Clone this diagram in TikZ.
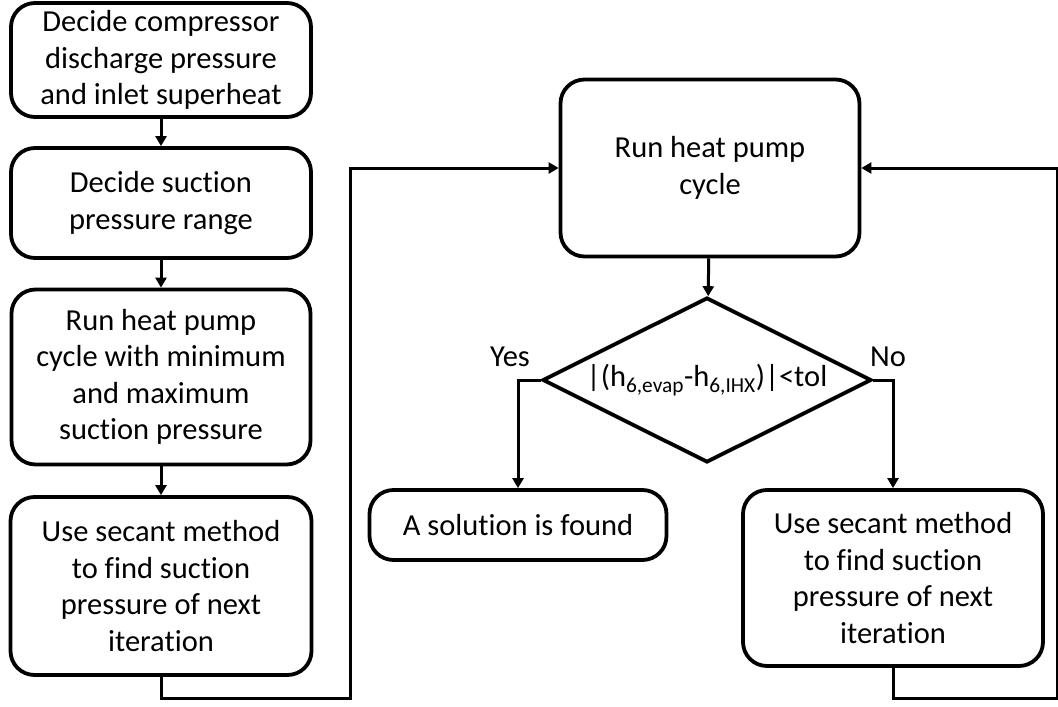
\documentclass[tikz,border=0pt]{standalone}
\usepackage{fontspec}
\setmainfont{Carlito}[Ligatures=NoCommon]
\usetikzlibrary{arrows.meta,shapes.geometric}
\begin{document}
\begin{tikzpicture}[x=1pt,y=-1pt,
  every node/.style={font=\fontsize{30.5}{36.5}\selectfont},
  box/.style={draw,line width=3.8pt,rounded corners=24pt,align=center,inner sep=0pt},
  dec/.style={draw,line width=3.8pt,shape=diamond,inner sep=0pt},
  conn/.style={line width=3pt,-{Triangle[length=10pt,width=11pt]}},
  line/.style={line width=3pt}]
\useasboundingbox (0,0) rectangle (1058,707);
\node[box,minimum width=300pt,minimum height=114pt] (b1) at (161,60) {Decide compressor\\discharge pressure\\and inlet superheat};
\node[box,minimum width=300pt,minimum height=110pt] (b2) at (161,203) {Decide suction\\pressure range};
\node[box,minimum width=299pt,minimum height=175pt] (b3) at (161,377) {Run heat pump\\cycle with minimum\\and maximum\\suction pressure};
\node[box,minimum width=301pt,minimum height=178pt] (b4) at (161,586) {Use secant method\\to find suction\\pressure of next\\iteration};
\node[box,minimum width=299pt,minimum height=177pt] (run) at (710,168) {Run heat pump\\cycle};
\node[dec,minimum width=329pt,minimum height=165pt] (d) at (707,380) {};
\node (dt) at (707,380) {|(h\textsubscript{6,evap}-h\textsubscript{6,IHX})|<tol};
\node[box,minimum width=297pt,minimum height=70pt] (sol) at (518,525) {A solution is found};
\node[box,minimum width=300pt,minimum height=176pt] (nob) at (893,578) {Use secant method\\to find suction\\pressure of next\\iteration};
\node (yes) at (510,357) {Yes};
\node (no) at (888,357) {No};
\coordinate (c1) at (350,698);
\coordinate (c2) at (1057,698);
\draw[conn] (b1) -- (b2);
\draw[conn] (b2) -- (b3);
\draw[conn] (b3) -- (b4);
\draw[conn] (b4.south) |- (c1) |- (run.west);
\draw[conn] (run) -- (d);
\draw[conn] (d.west) -| (sol.north);
\draw[conn] (d.east) -| (nob.north);
\draw[conn] (nob.south) |- (c2) |- (run.east);
\end{tikzpicture}
\end{document}
